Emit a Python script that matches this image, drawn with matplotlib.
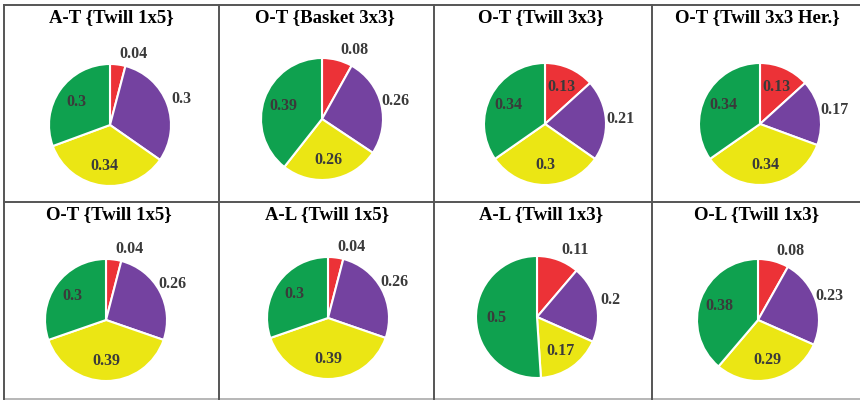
import numpy as np
import matplotlib.pyplot as plt
from matplotlib.lines import Line2D

# pie shares per panel, clockwise from 12 o'clock: red, purple, yellow, green
titles = ['A-T {Twill 1x5}', 'O-T {Basket 3x3}', 'O-T {Twill 3x3}', 'O-T {Twill 3x3 Her.}',
          'O-T {Twill 1x5}', 'A-L {Twill 1x5}', 'A-L {Twill 1x3}', 'O-L {Twill 1x3}']
red    = [0.04, 0.08, 0.13, 0.13, 0.04, 0.04, 0.11, 0.08]
purple = [0.30, 0.26, 0.21, 0.17, 0.26, 0.26, 0.20, 0.23]
yellow = [0.34, 0.26, 0.30, 0.34, 0.39, 0.39, 0.17, 0.29]
green  = [0.30, 0.39, 0.34, 0.34, 0.30, 0.30, 0.50, 0.38]

colors = ['#ec3237', '#7442a0', '#ebe614', '#0fa14f']

W, H = 860, 401
fig = plt.figure(figsize=(W/100, H/100), dpi=100)
fig.patch.set_facecolor('white')

# pixel centres of each pie and its title
centres = [(110, 125), (322, 119), (545, 124), (760, 124),
           (106, 320), (328, 318), (537, 317), (758, 320)]
title_x = [111, 325, 541, 757, 109, 327, 541, 757]
title_y = [18, 18, 18, 18, 215, 215, 215, 215]
R = 61

def px(x, y):
    return x / W, 1 - y / H

for i in range(8):
    cx, cy = centres[i]
    ax = fig.add_axes([(cx - R) / W, 1 - (cy + R) / H, 2 * R / W, 2 * R / H])
    vals = [red[i], purple[i], yellow[i], green[i]]
    wedges, _ = ax.pie(vals, colors=colors, startangle=90, counterclock=False,
                       wedgeprops=dict(edgecolor='white', linewidth=1.5))
    # label placement like the Excel original
    red_out = red[i] < 0.12
    dist = [1.17 if red_out else 0.66, 1.24, 0.68, 0.67]
    for k, (w, v, d) in enumerate(zip(wedges, vals, dist)):
        ang = np.deg2rad((w.theta1 + w.theta2) / 2)
        ha = 'left' if (k == 0 and red_out) else 'center'
        ax.text(d * np.cos(ang), d * np.sin(ang), f'{v:g}', ha=ha, va='center',
                fontsize=11.5, fontweight='bold', family='Liberation Serif', color='#3a3a3a')
    ax.set_xlim(-1, 1)
    ax.set_ylim(-1, 1)
    ax.set_aspect('equal')
    ax.axis('off')
    tx, ty = px(title_x[i], title_y[i])
    fig.text(tx, ty, titles[i], ha='center', va='center', fontsize=13.5,
             fontweight='bold', family='Liberation Serif', color='black')

# table grid
grid = dict(color='#555555', linewidth=1.4)
fig.add_artist(Line2D([4 / W, 1], [1 - 5 / H] * 2, **grid))
fig.add_artist(Line2D([4 / W, 1], [1 - 202 / H] * 2, **grid))
fig.add_artist(Line2D([4 / W, 1], [1 - 399 / H] * 2, color='#aaaaaa', linewidth=1.2))
for x in [4, 219, 434, 652]:
    fig.add_artist(Line2D([x / W] * 2, [1 - 5 / H, 1 - 399 / H], **grid))

fig.savefig('out.png', dpi=100)
